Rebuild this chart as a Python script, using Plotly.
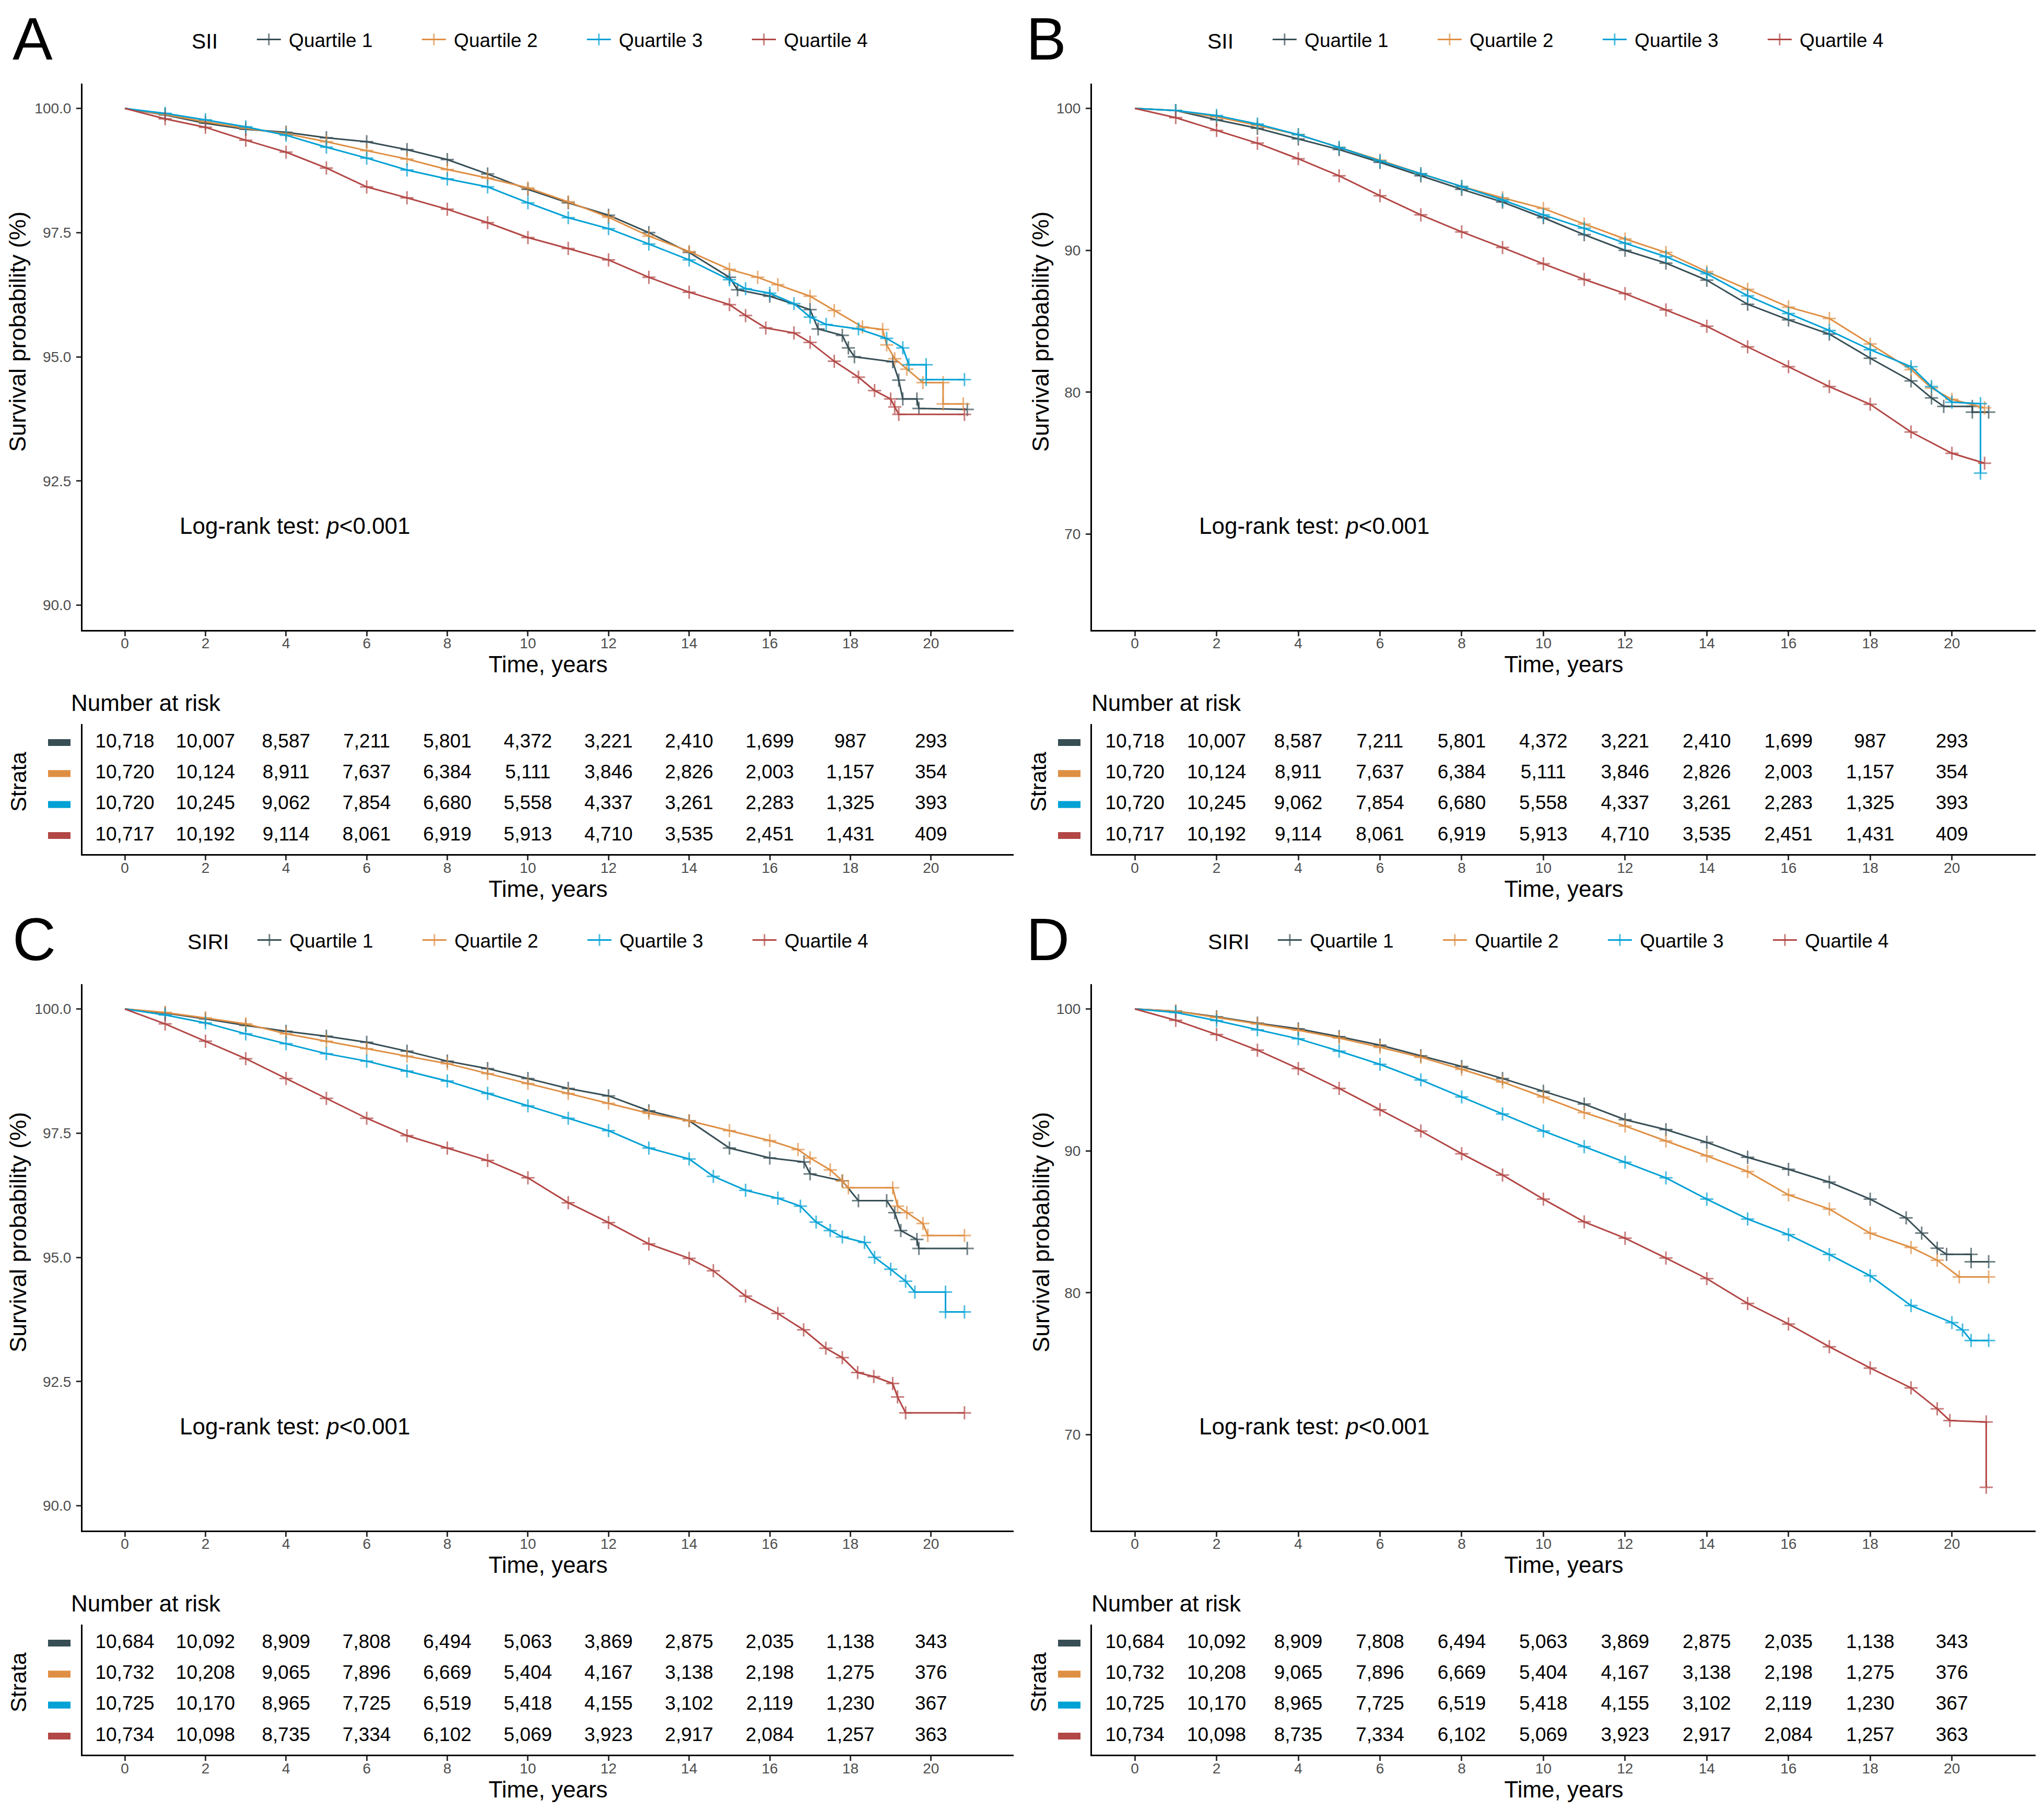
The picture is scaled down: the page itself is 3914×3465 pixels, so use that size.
import plotly.graph_objects as go

W, H = 3914, 3465
FONT = "Liberation Sans, Arial, sans-serif"

quartiles = ["Quartile 1", "Quartile 2", "Quartile 3", "Quartile 4"]
colors = ["#374E55", "#DF8F44", "#00A1D5", "#B24745"]

# ---------------- Panel A: SII, all-cause survival (%) ----------------
a_q1_t = [0, 1, 2, 3, 4, 5, 6, 7, 8, 9, 10, 11, 12, 13, 14, 15, 15.2, 16, 17, 17.2, 17.8, 17.95, 18.1, 19.05, 19.2, 19.3, 19.65, 19.7, 20.9]
a_q1_s = [100, 99.87, 99.7, 99.58, 99.52, 99.41, 99.33, 99.17, 98.97, 98.68, 98.37, 98.1, 97.85, 97.5, 97.1, 96.6, 96.35, 96.22, 95.95, 95.56, 95.43, 95.18, 95.0, 94.9, 94.53, 94.15, 94.15, 93.96, 93.94]
a_q2_t = [0, 1, 2, 3, 4, 5, 6, 7, 8, 9, 10, 11, 12, 13, 14, 15, 15.7, 16.2, 17, 17.6, 18.3, 18.8, 18.9, 19.1, 19.4, 19.8, 20.3, 20.3, 20.8]
a_q2_s = [100, 99.88, 99.73, 99.6, 99.49, 99.33, 99.15, 98.98, 98.77, 98.6, 98.4, 98.12, 97.81, 97.43, 97.12, 96.76, 96.6, 96.45, 96.22, 95.93, 95.6, 95.55, 95.24, 94.96, 94.75, 94.48, 94.48, 94.05, 94.05]
a_q3_t = [0, 1, 2, 3, 4, 5, 6, 7, 8, 9, 10, 11, 12, 13, 14, 15, 15.4, 16, 16.6, 17, 17.4, 18.2, 18.9, 19.3, 19.45, 19.88, 19.88, 20.83]
a_q3_s = [100, 99.9, 99.77, 99.63, 99.46, 99.22, 99.0, 98.76, 98.58, 98.42, 98.1, 97.8, 97.58, 97.27, 96.95, 96.55, 96.37, 96.28, 96.07, 95.8, 95.65, 95.56, 95.37, 95.18, 94.84, 94.84, 94.54, 94.54]
a_q4_t = [0, 1, 2, 3, 4, 5, 6, 7, 8, 9, 10, 11, 12, 13, 14, 15, 15.4, 15.9, 16.6, 17, 17.6, 18.2, 18.6, 19, 19.1, 19.2, 20.83]
a_q4_s = [100, 99.79, 99.62, 99.36, 99.12, 98.8, 98.42, 98.2, 97.97, 97.7, 97.4, 97.18, 96.95, 96.6, 96.3, 96.05, 95.83, 95.58, 95.48, 95.29, 94.91, 94.59, 94.32, 94.15, 93.99, 93.84, 93.84]

# ---------------- Panel B: SII, second outcome (%) ----------------
b_q1_t = [0, 1, 2, 3, 4, 5, 6, 7, 8, 9, 10, 11, 12, 13, 14, 15, 16, 17, 18, 19, 19.5, 19.8, 20.5, 20.5, 20.9]
b_q1_s = [100, 99.85, 99.2, 98.6, 97.85, 97.1, 96.2, 95.25, 94.3, 93.4, 92.3, 91.1, 90.0, 89.1, 87.9, 86.2, 85.1, 84.1, 82.4, 80.8, 79.6, 79.0, 79.0, 78.6, 78.6]
b_q2_t = [0, 1, 2, 3, 4, 5, 6, 7, 8, 9, 10, 11, 12, 13, 14, 15, 16, 17, 18, 19, 19.5, 20, 20.8]
b_q2_s = [100, 99.85, 99.4, 98.8, 98.15, 97.25, 96.35, 95.4, 94.5, 93.7, 92.95, 91.85, 90.8, 89.85, 88.5, 87.25, 86.0, 85.2, 83.4, 81.6, 80.3, 79.5, 78.9]
b_q3_t = [0, 1, 2, 3, 4, 5, 6, 7, 8, 9, 10, 11, 12, 13, 14, 15, 16, 17, 18, 19, 19.5, 20, 20.7, 20.7]
b_q3_s = [100, 99.85, 99.5, 98.9, 98.15, 97.25, 96.3, 95.4, 94.5, 93.55, 92.5, 91.55, 90.5, 89.55, 88.35, 86.8, 85.55, 84.35, 83.0, 81.8, 80.4, 79.3, 79.2, 74.3]
b_q4_t = [0, 1, 2, 3, 4, 5, 6, 7, 8, 9, 10, 11, 12, 13, 14, 15, 16, 17, 18, 19, 20, 20.8]
b_q4_s = [100, 99.35, 98.45, 97.55, 96.45, 95.25, 93.85, 92.5, 91.3, 90.2, 89.05, 87.95, 86.95, 85.8, 84.65, 83.2, 81.8, 80.4, 79.15, 77.2, 75.7, 75.0]

# ---------------- Panel C: SIRI, all-cause survival (%) ----------------
c_q1_t = [0, 1, 2, 3, 4, 5, 6, 7, 8, 9, 10, 11, 12, 13, 14, 15, 16, 16.85, 17, 17.8, 18.2, 18.9, 19.1, 19.25, 19.65, 19.7, 20.9]
c_q1_s = [100, 99.92, 99.8, 99.67, 99.55, 99.45, 99.33, 99.15, 98.95, 98.8, 98.6, 98.4, 98.25, 97.95, 97.75, 97.2, 97.0, 96.92, 96.68, 96.54, 96.14, 96.14, 95.9, 95.54, 95.36, 95.18, 95.18]
c_q2_t = [0, 1, 2, 3, 4, 5, 6, 7, 8, 9, 10, 11, 12, 13, 14, 15, 16, 16.7, 17, 17.5, 17.8, 17.95, 19.05, 19.17, 19.4, 19.8, 19.92, 20.83]
c_q2_s = [100, 99.93, 99.82, 99.7, 99.5, 99.35, 99.2, 99.05, 98.9, 98.7, 98.5, 98.3, 98.1, 97.9, 97.75, 97.55, 97.35, 97.17, 97.0, 96.76, 96.54, 96.4, 96.4, 96.03, 95.9, 95.68, 95.44, 95.44]
c_q3_t = [0, 1, 2, 3, 4, 5, 6, 7, 8, 9, 10, 11, 12, 13, 14, 14.6, 15.4, 16.2, 16.76, 17.15, 17.5, 17.8, 18.35, 18.6, 19.0, 19.37, 19.6, 20.36, 20.36, 20.83]
c_q3_s = [100, 99.88, 99.72, 99.5, 99.3, 99.1, 98.95, 98.75, 98.55, 98.3, 98.05, 97.8, 97.55, 97.2, 96.98, 96.63, 96.35, 96.19, 96.03, 95.71, 95.54, 95.41, 95.3, 95.0, 94.76, 94.52, 94.3, 94.3, 93.9, 93.9]
c_q4_t = [0, 1, 2, 3, 4, 5, 6, 7, 8, 9, 10, 11, 12, 13, 14, 14.6, 15.4, 16.2, 16.84, 17.39, 17.8, 18.18, 18.58, 19.05, 19.17, 19.37, 20.83]
c_q4_s = [100, 99.7, 99.35, 99.0, 98.6, 98.2, 97.8, 97.45, 97.2, 96.95, 96.6, 96.1, 95.7, 95.27, 94.98, 94.73, 94.22, 93.87, 93.54, 93.17, 92.98, 92.68, 92.6, 92.46, 92.19, 91.87, 91.87]

# ---------------- Panel D: SIRI, second outcome (%) ----------------
d_q1_t = [0, 1, 2, 3, 4, 5, 6, 7, 8, 9, 10, 11, 12, 13, 14, 15, 16, 17, 18, 18.88, 19.26, 19.64, 19.87, 20.47, 20.47, 20.9]
d_q1_s = [100, 99.85, 99.45, 99.0, 98.6, 98.05, 97.45, 96.7, 95.95, 95.1, 94.2, 93.3, 92.2, 91.5, 90.6, 89.55, 88.7, 87.8, 86.6, 85.28, 84.21, 83.14, 82.71, 82.71, 82.19, 82.19]
d_q2_t = [0, 1, 2, 3, 4, 5, 6, 7, 8, 9, 10, 11, 12, 13, 14, 15, 16, 17, 18, 19, 19.64, 20.18, 20.9]
d_q2_s = [100, 99.85, 99.4, 98.95, 98.5, 97.95, 97.3, 96.6, 95.75, 94.85, 93.8, 92.7, 91.75, 90.7, 89.65, 88.55, 86.9, 85.9, 84.2, 83.2, 82.3, 81.12, 81.12]
d_q3_t = [0, 1, 2, 3, 4, 5, 6, 7, 8, 9, 10, 11, 12, 13, 14, 15, 16, 17, 18, 19, 20, 20.26, 20.47, 20.9]
d_q3_s = [100, 99.75, 99.18, 98.53, 97.9, 97.03, 96.1, 95.0, 93.8, 92.6, 91.4, 90.3, 89.2, 88.1, 86.6, 85.2, 84.1, 82.7, 81.2, 79.1, 77.9, 77.38, 76.64, 76.64]
d_q4_t = [0, 1, 2, 3, 4, 5, 6, 7, 8, 9, 10, 11, 12, 13, 14, 15, 16, 17, 18, 19, 19.64, 19.95, 20.84, 20.84]
d_q4_s = [100, 99.2, 98.2, 97.1, 95.8, 94.4, 92.9, 91.4, 89.8, 88.3, 86.6, 85.0, 83.85, 82.45, 81.0, 79.25, 77.8, 76.2, 74.7, 73.3, 71.83, 71.0, 70.9, 66.3]

# ---------------- Number at risk ----------------
risk_times = [0, 2, 4, 6, 8, 10, 12, 14, 16, 18, 20]
sii_q1_risk = [10718, 10007, 8587, 7211, 5801, 4372, 3221, 2410, 1699, 987, 293]
sii_q2_risk = [10720, 10124, 8911, 7637, 6384, 5111, 3846, 2826, 2003, 1157, 354]
sii_q3_risk = [10720, 10245, 9062, 7854, 6680, 5558, 4337, 3261, 2283, 1325, 393]
sii_q4_risk = [10717, 10192, 9114, 8061, 6919, 5913, 4710, 3535, 2451, 1431, 409]
siri_q1_risk = [10684, 10092, 8909, 7808, 6494, 5063, 3869, 2875, 2035, 1138, 343]
siri_q2_risk = [10732, 10208, 9065, 7896, 6669, 5404, 4167, 3138, 2198, 1275, 376]
siri_q3_risk = [10725, 10170, 8965, 7725, 6519, 5418, 4155, 3102, 2119, 1230, 367]
siri_q4_risk = [10734, 10098, 8735, 7334, 6102, 5069, 3923, 2917, 2084, 1257, 363]

x_ticks = [0, 2, 4, 6, 8, 10, 12, 14, 16, 18, 20]
y_ticks_fine = [90, 92.5, 95, 97.5, 100]
y_ticks_coarse = [70, 80, 90, 100]


def px(x):
    return x / W


def py(y):
    return 1 - y / H


NB = "\u00a0"

panels = [
    dict(letter="A", title="SII", col=0, row=0,
         curves=[(a_q1_t, a_q1_s), (a_q2_t, a_q2_s), (a_q3_t, a_q3_s), (a_q4_t, a_q4_s)],
         risk=[sii_q1_risk, sii_q2_risk, sii_q3_risk, sii_q4_risk],
         yrange=[89.5, 100.5], yticks=y_ticks_fine, yfmt=".1f", mark_from=0),
    dict(letter="B", title="SII", col=1, row=0,
         curves=[(b_q1_t, b_q1_s), (b_q2_t, b_q2_s), (b_q3_t, b_q3_s), (b_q4_t, b_q4_s)],
         risk=[sii_q1_risk, sii_q2_risk, sii_q3_risk, sii_q4_risk],
         yrange=[63.25, 101.75], yticks=y_ticks_coarse, yfmt="d", mark_from=1),
    dict(letter="C", title="SIRI", col=0, row=1,
         curves=[(c_q1_t, c_q1_s), (c_q2_t, c_q2_s), (c_q3_t, c_q3_s), (c_q4_t, c_q4_s)],
         risk=[siri_q1_risk, siri_q2_risk, siri_q3_risk, siri_q4_risk],
         yrange=[89.5, 100.5], yticks=y_ticks_fine, yfmt=".1f", mark_from=0),
    dict(letter="D", title="SIRI", col=1, row=1,
         curves=[(d_q1_t, d_q1_s), (d_q2_t, d_q2_s), (d_q3_t, d_q3_s), (d_q4_t, d_q4_s)],
         risk=[siri_q1_risk, siri_q2_risk, siri_q3_risk, siri_q4_risk],
         yrange=[63.25, 101.75], yticks=y_ticks_coarse, yfmt="d", mark_from=1),
]

# pixel geometry (figure pixels)
col_axis = [(158, 1941), (2091, 3898)]
row_off = [0, 1724]
km_y = (160, 1206)
tab_y = (1386, 1635)
letter_x = [22, 1963]
legend_x = [[365, 2310], [357, 2311]]
title_pad = {"SII": 6, "SIRI": 4}
logrank_x = [342, 2294]
nrisk_x = [134, 2088]
strata_x = [35, 1988]
ytitle_x = [34, 1993]
bar_x = [(92, 135), (2026, 2069)]

tick_font = dict(family=FONT, size=28, color="#4D4D4D")
title_font = dict(family=FONT, size=44, color="black")

fig = go.Figure()
layout = dict(
    width=W, height=H,
    margin=dict(l=0, r=0, t=0, b=0),
    paper_bgcolor="white", plot_bgcolor="white",
    font=dict(family=FONT, color="black"),
    showlegend=True,
)
annotations = []
shapes = []

common_axis = dict(showline=True, linecolor="black", linewidth=3, ticks="outside",
                   ticklen=9, tickwidth=3, tickcolor="#333333", showgrid=False,
                   zeroline=False, tickfont=tick_font)

for i, p in enumerate(panels):
    c, r = p["col"], p["row"]
    x0, x1 = col_axis[c]
    off = row_off[r]
    km_idx = 2 * i + 1
    tb_idx = 2 * i + 2
    xk, yk = f"x{km_idx}", f"y{km_idx}"
    xt, yt = f"x{tb_idx}", f"y{tb_idx}"
    leg = "legend" if i == 0 else f"legend{i + 1}"

    # KM axes
    layout[f"xaxis{km_idx}"] = dict(common_axis, domain=[px(x0), px(x1)], anchor=yk,
                                    range=[-1.05, 22.05], tickvals=x_ticks, ticklabelstandoff=-11,
                                    title=dict(text="Time, years", font=title_font, standoff=0))
    layout[f"yaxis{km_idx}"] = dict(common_axis, domain=[py(km_y[1] + off), py(km_y[0] + off)],
                                    anchor=xk, range=p["yrange"], tickvals=p["yticks"],
                                    tickformat=p["yfmt"], ticklabelstandoff=4)
    # risk table axes
    layout[f"xaxis{tb_idx}"] = dict(common_axis, domain=[px(x0), px(x1)], anchor=yt,
                                    range=[-1.05, 22.05], tickvals=x_ticks, ticklabelstandoff=-10,
                                    title=dict(text="Time, years", font=title_font, standoff=0))
    layout[f"yaxis{tb_idx}"] = dict(showline=True, linecolor="black", linewidth=3,
                                    domain=[py(tab_y[1] + off), py(tab_y[0] + off)],
                                    anchor=xt, range=[4.6, 0.4], showticklabels=False,
                                    ticks="", showgrid=False, zeroline=False)

    for q in range(4):
        t, s = p["curves"][q]
        sizes = [18 if tv >= p["mark_from"] and tv > 0 else 0 for tv in t]
        fig.add_trace(go.Scatter(
            x=t, y=s, mode="lines+markers", name=NB + quartiles[q],
            line=dict(color=colors[q], width=3),
            marker=dict(symbol="cross-thin", size=sizes, color=colors[q],
                        line=dict(color=colors[q], width=3)),
            xaxis=xk, yaxis=yk, legend=leg,
            hovertemplate=quartiles[q] + ": %{y:.2f}%<extra></extra>",
        ))
        fig.add_trace(go.Scatter(
            x=risk_times, y=[q + 1] * len(risk_times), mode="text",
            text=[f"{n:,}" for n in p["risk"][q]],
            textfont=dict(family=FONT, size=37, color="black"),
            textposition="middle center", showlegend=False,
            xaxis=xt, yaxis=yt, cliponaxis=False, hoverinfo="skip",
        ))
        bx0, bx1 = bar_x[c]
        shapes.append(dict(type="rect", xref="paper", yref=yt,
                           x0=px(bx0), x1=px(bx1), y0=q + 1 - 0.11, y1=q + 1 + 0.11,
                           fillcolor=colors[q], line=dict(width=0)))

    layout[leg] = dict(
        x=px(legend_x[r][c]), y=py(76 + off), xanchor="left", yanchor="middle",
        orientation="h", bgcolor="rgba(0,0,0,0)", borderwidth=0,
        title=dict(text='<span style="font-size:41px">' + p["title"] + "</span>"
                   + NB * title_pad[p["title"]], side="left",
                   font=dict(family=FONT, size=37, color="black")),
        font=dict(family=FONT, size=37, color="black"),
        itemwidth=46, entrywidth=255, entrywidthmode="pixels",
    )

    annotations += [
        dict(text=p["letter"], x=px(letter_x[c]), y=py(74 + off), xref="paper", yref="paper",
             xanchor="left", yanchor="middle", showarrow=False,
             font=dict(family=FONT, size=115, color="black")),
        dict(text="Log-rank test: <i>p</i>&lt;0.001", x=px(logrank_x[c]), y=py(1006 + off),
             xref="paper", yref="paper", xanchor="left", yanchor="middle", showarrow=False,
             font=dict(family=FONT, size=44, color="black")),
        dict(text="Survival probability (%)", x=px(ytitle_x[c]), y=py(635 + off), xref="paper",
             yref="paper", xanchor="center", yanchor="middle", textangle=-90, showarrow=False,
             font=dict(family=FONT, size=45, color="black")),
        dict(text="Number at risk", x=px(nrisk_x[c]), y=py(1345 + off), xref="paper",
             yref="paper", xanchor="left", yanchor="middle", showarrow=False,
             font=dict(family=FONT, size=44, color="black")),
        dict(text="Strata", x=px(strata_x[c]), y=py(1497 + off), xref="paper", yref="paper",
             xanchor="center", yanchor="middle", textangle=-90, showarrow=False,
             font=dict(family=FONT, size=43, color="black")),
    ]

layout["annotations"] = annotations
layout["shapes"] = shapes
fig.update_layout(**layout)
fig.write_html(
    "out.html",
    config={"displayModeBar": False},
    post_script="document.body.style.margin='0px';document.body.style.padding='0px';"
                "document.documentElement.style.overflow='hidden';",
)
